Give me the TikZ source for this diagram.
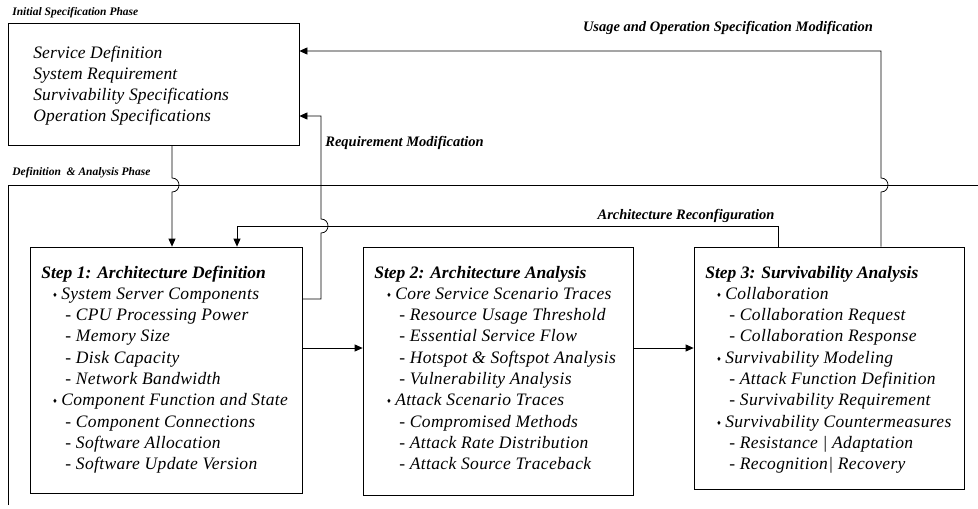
\documentclass[tikz,border=0pt]{standalone}
\usepackage{fontspec}
\setmainfont{Liberation Serif}
\newfontfamily\itemfont[LetterSpace=2]{Liberation Serif}
\newfontfamily\specfont[LetterSpace=0.8]{Liberation Serif}
\newfontfamily\dejavu{DejaVu Sans}
\usetikzlibrary{arrows.meta}
\newcommand\bul{\raisebox{2pt}{\dejavu\fontsize{6}{6}\selectfont ♦}\hspace{3.5pt}}
\newcommand\ttlfont{\rmfamily\bfseries}
\begin{document}
\begin{tikzpicture}[x=1pt,y=-1pt,
  line width=0.75pt,
  box/.style={draw, rectangle, inner sep=0pt},
  arr/.style={-{Triangle[length=8pt,width=7pt]}},
  itm/.style={anchor=base west, inner sep=0pt, font=\itemfont\fontsize{17.5}{20}\selectfont\itshape},
  spc/.style={anchor=base west, inner sep=0pt, font=\specfont\fontsize{17.5}{20}\selectfont\itshape},
  lbl/.style={inner sep=0pt, font=\fontsize{14.5}{16}\selectfont\bfseries\itshape},
  phl/.style={anchor=west, inner sep=0pt, font=\fontsize{11.5}{13}\selectfont\bfseries\itshape},
]
\useasboundingbox (0,0) rectangle (978,509);

% boxes
\node[box, minimum width=291pt, minimum height=122pt] (top) at (153.5,84) {};
\node[box, minimum width=272pt, minimum height=246pt] (s1) at (166,370) {};
\node[box, minimum width=270pt, minimum height=248pt] (s2) at (498,371) {};
\node[box, minimum width=270pt, minimum height=242pt] (s3) at (829,368) {};

% phase frame
\draw (8,505) -- (8,185) -- (978,185);

% phase labels
\node[phl] (ph1) at (12,13) {Initial Specification Phase};
\node[phl] (ph2) at (12,173) {Definition \ \& Analysis Phase};

% top box text
\foreach \t [count=\i from 0] in {Service Definition, System Requirement, Survivability Specifications, Operation Specifications}
  \node[spc] (tt\i) at (33, 58+21*\i) {\t};

% step 1
\foreach \dx/\t [count=\i from 0] in {
  11/{\ttlfont Step 1: Architecture Definition},
  22/{\bul System Server Components},
  35/{- CPU Processing Power},
  35/{- Memory Size},
  35/{- Disk Capacity},
  35/{- Network Bandwidth},
  22/{\bul Component Function and State},
  35/{- Component Connections},
  35/{- Software Allocation},
  35/{- Software Update Version}}
  \node[itm] (sa\i) at (30+\dx, 278+21.3*\i) {\t};

% step 2
\foreach \dx/\t [count=\i from 0] in {
  11/{\ttlfont Step 2: Architecture Analysis},
  23/{\bul Core Service Scenario Traces},
  36/{- Resource Usage Threshold},
  36/{- Essential Service Flow},
  36/{- Hotspot \& Softspot Analysis},
  36/{- Vulnerability Analysis},
  23/{\bul Attack Scenario Traces},
  36/{- Compromised Methods},
  36/{- Attack Rate Distribution},
  36/{- Attack Source Traceback}}
  \node[itm] (sb\i) at (363+\dx, 278+21.3*\i) {\t};

% step 3
\foreach \dx/\t [count=\i from 0] in {
  11/{\ttlfont Step 3: Survivability Analysis},
  22/{\bul Collaboration},
  35/{- Collaboration Request},
  35/{- Collaboration Response},
  22/{\bul Survivability Modeling},
  35/{- Attack Function Definition},
  35/{- Survivability Requirement},
  22/{\bul Survivability Countermeasures},
  35/{- Resistance | Adaptation},
  35/{- Recognition| Recovery}}
  \node[itm] (sc\i) at (694+\dx, 278+21.3*\i) {\t};

% connector labels
\node[lbl] (lu) at (728,28) {Usage and Operation Specification Modification};
\node[lbl, anchor=west] (lr) at (325,143) {Requirement Modification};
\node[lbl] (la) at (686,216) {Architecture Reconfiguration};

% helper coordinates
\coordinate (xa) at (172,0);
\coordinate (xb) at (237,0);
\coordinate (xc) at (778,0);
\coordinate (xd) at (881,0);
\coordinate (yq) at (0,299);
\coordinate (yr) at (0,116);
\coordinate (yu) at (0,51);
\coordinate (ys) at (0,348);

% top box -> step 1 (hop over phase line)
\draw[arr] (top.south -| xa) -- (172,178) .. controls (181.3,178) and (181.3,192) .. (172,192) -- (s1.north -| xa);

% architecture reconfiguration
\draw[arr] (s3.north -| xc) -- (778,226) -- (237,226) -- (s1.north -| xb);

% requirement modification (hop over reconfiguration line)
\draw[arr] (s1.east |- yq) -- (321,299) -- (321,233) .. controls (330.3,233) and (330.3,219) .. (321,219) -- (321,116) -- (top.east |- yr);

% usage and operation specification modification (hop over phase line)
\draw[arr] (s3.north -| xd) -- (881,192) .. controls (890.3,192) and (890.3,178) .. (881,178) -- (881,51) -- (top.east |- yu);

% step flow
\draw[arr] (s1.east |- ys) -- (s2.west |- ys);
\draw[arr] (s2.east |- ys) -- (s3.west |- ys);
\end{tikzpicture}
\end{document}
